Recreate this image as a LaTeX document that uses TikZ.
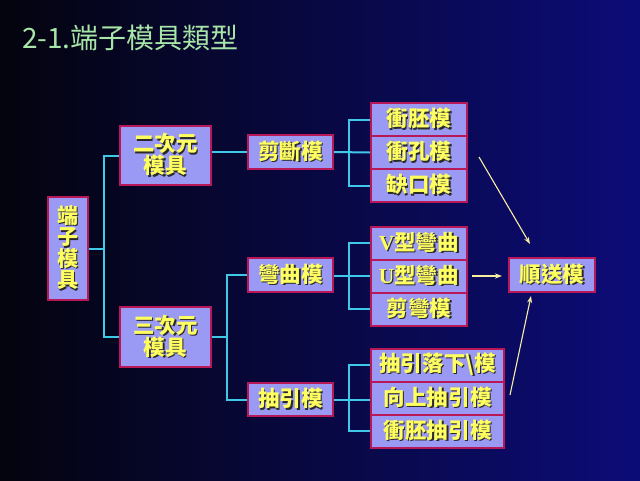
\documentclass[tikz,border=0pt]{standalone}
\usepackage{fontspec}
\usetikzlibrary{arrows.meta}
\newfontfamily\cjk{Noto Sans CJK TC}[LetterSpace=1]
\newfontfamily\cjktitle{Noto Sans CJK TC}
\newfontfamily\latb{Liberation Serif}
\definecolor{bgl}{HTML}{04040E}
\definecolor{bgr}{HTML}{0C0C78}
\definecolor{boxf}{HTML}{9A9AF4}
\definecolor{bord}{HTML}{B81858}
\definecolor{linec}{HTML}{40C8E8}
\definecolor{txty}{HTML}{FFFF60}
\definecolor{txtsh}{HTML}{2A2A2A}
\definecolor{titlec}{HTML}{A8E6A8}
\definecolor{arrc}{HTML}{F8EEA0}
\newcommand\shtxt[1]{\makebox[0pt][l]{\hspace{1.4pt}\raisebox{-1.4pt}{\color{txtsh}#1}}#1}
\tikzset{
  boxnode/.style={draw=bord, line width=2pt, fill=boxf, text=txty, inner sep=0pt, align=center,
    font=\cjk\bfseries\fontsize{21.5}{22}\selectfont},
  link/.style={draw=linec, line width=2pt},
  arr/.style={draw=arrc, line width=1.1pt, -{Stealth[length=7pt,width=5pt]}}
}
\begin{document}
\begin{tikzpicture}[x=1pt,y=-1pt]
\shade[left color=bgl, right color=bgr] (0,0) rectangle (640,480);
\useasboundingbox (0,0) rectangle (640,480);
\node[anchor=base west, inner sep=0pt, text=titlec, font=\cjktitle\fontsize{28}{30}\selectfont] (title) at (22,48) {2-1.端子模具類型};
% nodes
\node[boxnode, minimum width=40pt, minimum height=103pt, font=\cjk\bfseries\fontsize{21}{21.5}\selectfont] (root) at (68,248.5) {\shtxt{端}\\\shtxt{子}\\\shtxt{模}\\\shtxt{具}};
\node[boxnode, minimum width=91pt, minimum height=59pt] (er) at (165.5,155.5) {\shtxt{二次元}\\\shtxt{模具}};
\node[boxnode, minimum width=91pt, minimum height=60pt] (san) at (165.5,337) {\shtxt{三次元}\\\shtxt{模具}};
\node[boxnode, minimum width=85pt, minimum height=34pt] (jd) at (290.5,152) {\shtxt{剪斷模}};
\node[boxnode, minimum width=85pt, minimum height=34pt] (wq) at (290.5,275) {\shtxt{彎曲模}};
\node[boxnode, minimum width=85pt, minimum height=33pt] (cy) at (290.5,399.5) {\shtxt{抽引模}};
\node[boxnode, minimum width=96pt, minimum height=33pt] (a1) at (419,119.5) {\shtxt{衝胚模}};
\node[boxnode, minimum width=96pt, minimum height=33pt] (a2) at (419,152.5) {\shtxt{衝孔模}};
\node[boxnode, minimum width=96pt, minimum height=33pt] (a3) at (419,185.5) {\shtxt{缺口模}};
\node[boxnode, minimum width=96pt, minimum height=33pt] (b1) at (419,243) {\shtxt{{\latb V}型彎曲}};
\node[boxnode, minimum width=96pt, minimum height=33pt] (b2) at (419,276) {\shtxt{{\latb U}型彎曲}};
\node[boxnode, minimum width=96pt, minimum height=33pt] (b3) at (419,309) {\shtxt{剪彎模}};
\node[boxnode, minimum width=133pt, minimum height=33pt] (c1) at (437.5,365) {\shtxt{抽引落下\textbackslash 模}};
\node[boxnode, minimum width=133pt, minimum height=33pt] (c2) at (437.5,398) {\shtxt{向上抽引模}};
\node[boxnode, minimum width=133pt, minimum height=33pt] (c3) at (437.5,431) {\shtxt{衝胚抽引模}};
\node[boxnode, minimum width=86pt, minimum height=34pt] (ss) at (552,275) {\shtxt{順送模}};
% junctions
\coordinate (j1) at (104,248.5);
\coordinate (j2) at (227,337);
\coordinate (j3) at (349,152.5);
\coordinate (j4) at (349,276);
\coordinate (j5) at (349,399.5);
% connectors
\draw[link] (root.east) -- (j1);
\draw[link] (er.west) -| (j1) |- (san.west);
\draw[link] (jd.west) -- (jd.west -| er.east);
\draw[link] (san.east) -- (j2);
\draw[link] (wq.west) -| (j2) |- (cy.west);
\draw[link] (jd.east) -- (a2.west);
\draw[link] (a1.west) -| (j3) |- (a3.west);
\draw[link] (wq.east |- b2.west) -- (b2.west);
\draw[link] (b1.west) -| (j4) |- (b3.west);
\draw[link] (cy.east) -- (cy.east -| c2.west);
\draw[link] (c1.west) -| (j5) |- (c3.west);
% arrows
\draw[arr] ([shift={(11,4.5)}]a2.east) -- ([shift={(-22,-13)}]ss.north);
\draw[arr] ([xshift=4pt]b2.east) -- ([xshift=-6pt]ss.west |- b2.east);
\draw[arr] ([shift={(5,-3)}]c2.east) -- ([shift={(-21,3)}]ss.south);
\end{tikzpicture}
\end{document}
